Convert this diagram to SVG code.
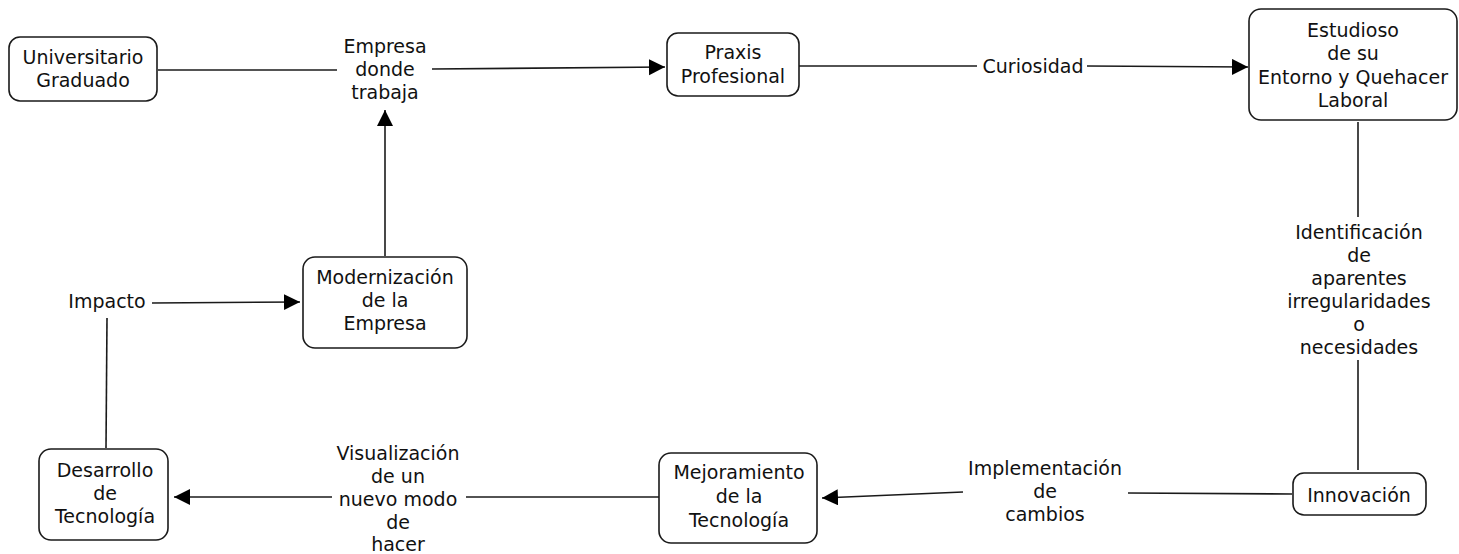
<svg xmlns="http://www.w3.org/2000/svg" width="1459" height="554" viewBox="0 0 1459 554">
<style>
.n{fill:#fff;stroke:#1a1a1a;stroke-width:1.6}
.t{font-family:"DejaVu Sans","Verdana",sans-serif;font-size:19px;fill:#111;text-anchor:middle}
.c{fill:none;stroke:#1a1a1a;stroke-width:1.6}
.a{marker-end:url(#ah)}
</style>
<defs>
<marker id="ah" markerUnits="userSpaceOnUse" markerWidth="17" markerHeight="17" refX="16" refY="8" orient="auto" viewBox="0 0 17 17">
<path d="M0,0 L16,8 L0,16 z" fill="#000"/>
</marker>
</defs>
<rect width="1459" height="554" fill="#fff"/>
<g id="connectors">
<line class="c" x1="158" y1="70" x2="337" y2="70"/>
<line class="c a" x1="432" y1="69" x2="665" y2="67"/>
<line class="c" x1="799" y1="66" x2="977" y2="66"/>
<line class="c a" x1="1087" y1="66" x2="1248" y2="67"/>
<line class="c" x1="1358" y1="122" x2="1358" y2="217"/>
<line class="c" x1="1358" y1="360" x2="1358" y2="470"/>
<line class="c" x1="1292" y1="494" x2="1128" y2="493"/>
<line class="c a" x1="963" y1="492" x2="822" y2="498"/>
<line class="c" x1="659" y1="497" x2="466" y2="497"/>
<line class="c a" x1="332" y1="497" x2="174" y2="497"/>
<line class="c" x1="106" y1="448" x2="107" y2="318"/>
<line class="c a" x1="152" y1="303" x2="300" y2="302"/>
<line class="c a" x1="385" y1="256" x2="385" y2="110"/>
<text class="t" x="385" y="53">Empresa</text>
<text class="t" x="385" y="76">donde</text>
<text class="t" x="385" y="99">trabaja</text>
<text class="t" x="1033" y="73">Curiosidad</text>
<text class="t" x="1359" y="239">Identificación</text>
<text class="t" x="1359" y="262">de</text>
<text class="t" x="1359" y="285">aparentes</text>
<text class="t" x="1359" y="308">irregularidades</text>
<text class="t" x="1359" y="331">o</text>
<text class="t" x="1359" y="354">necesidades</text>
<text class="t" x="1045" y="475">Implementación</text>
<text class="t" x="1045" y="498">de</text>
<text class="t" x="1045" y="521">cambios</text>
<text class="t" x="398" y="460">Visualización</text>
<text class="t" x="398" y="483">de un</text>
<text class="t" x="398" y="506">nuevo modo</text>
<text class="t" x="398" y="529">de</text>
<text class="t" x="398" y="551">hacer</text>
<text class="t" x="107" y="308">Impacto</text>
</g>
<g id="universitario">
<rect class="n" x="9" y="37" width="148" height="64" rx="11"/>
<text class="t" x="83" y="64">Universitario</text>
<text class="t" x="83" y="87">Graduado</text>
</g>
<g id="praxis">
<rect class="n" x="667" y="33" width="132" height="63" rx="11"/>
<text class="t" x="733" y="59">Praxis</text>
<text class="t" x="733" y="83">Profesional</text>
</g>
<g id="estudioso">
<rect class="n" x="1249" y="9" width="208" height="111" rx="12"/>
<text class="t" x="1353" y="37">Estudioso</text>
<text class="t" x="1353" y="60">de su</text>
<text class="t" x="1353" y="84">Entorno y Quehacer</text>
<text class="t" x="1353" y="107">Laboral</text>
</g>
<g id="innovacion">
<rect class="n" x="1293" y="473" width="133" height="42" rx="11"/>
<text class="t" x="1359" y="502">Innovación</text>
</g>
<g id="mejoramiento">
<rect class="n" x="659" y="453" width="158" height="90" rx="12"/>
<text class="t" x="739" y="479">Mejoramiento</text>
<text class="t" x="739" y="503">de la</text>
<text class="t" x="739" y="527">Tecnología</text>
</g>
<g id="desarrollo">
<rect class="n" x="39" y="449" width="129" height="91" rx="12"/>
<text class="t" x="105" y="477">Desarrollo</text>
<text class="t" x="105" y="500">de</text>
<text class="t" x="105" y="523">Tecnología</text>
</g>
<g id="modernizacion">
<rect class="n" x="303" y="257" width="164" height="91" rx="12"/>
<text class="t" x="385" y="284">Modernización</text>
<text class="t" x="385" y="307">de la</text>
<text class="t" x="385" y="330">Empresa</text>
</g>
</svg>
